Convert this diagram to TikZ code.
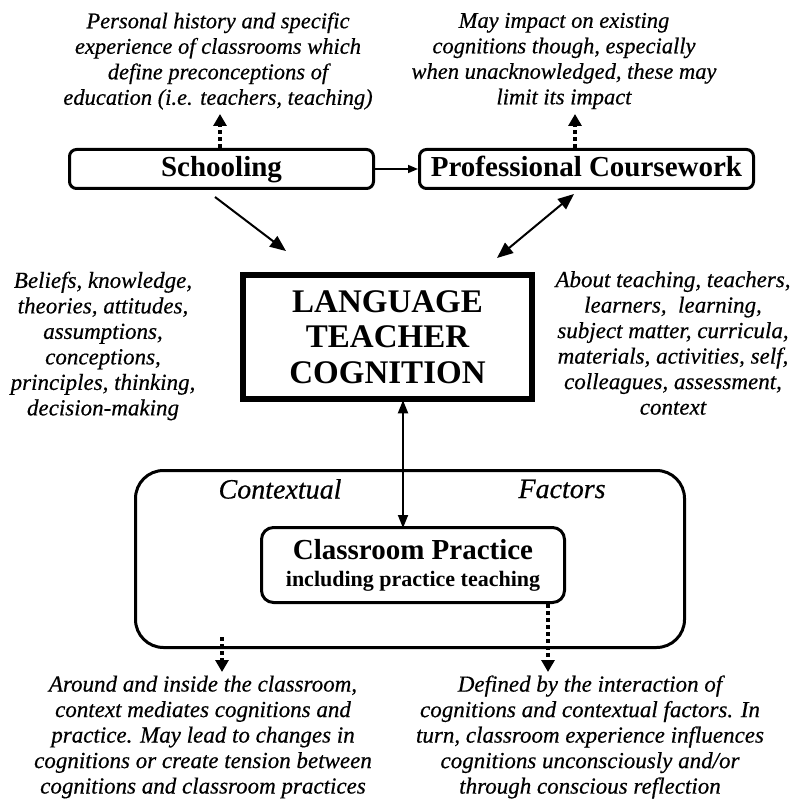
\documentclass[tikz,border=0pt]{standalone}
\usepackage{fontspec}
\setmainfont{Liberation Serif}
\newfontfamily\itf{Liberation Serif}[FakeBold=0.5]
\usetikzlibrary{arrows.meta,calc}
\begin{document}
\begin{tikzpicture}[x=1pt,y=-1pt,
  box/.style={draw,line width=3pt,rounded corners=7pt,inner sep=0pt,text height=18pt,text depth=2pt,
    font=\fontsize{29}{32}\selectfont\bfseries},
  note/.style={align=center,inner sep=0pt,font=\itf\itshape\fontsize{22.5}{25.5}\selectfont},
  notem/.style={align=center,inner sep=0pt,font=\itf\itshape\fontsize{23}{25.5}\selectfont},
  ctx/.style={inner sep=0pt,font=\itf\itshape\fontsize{28}{30}\selectfont},
  conn/.style={line width=2pt,-{Triangle[length=16pt,width=13pt]}},
  dconn/.style={line width=2pt,{Triangle[length=16pt,width=13pt]}-{Triangle[length=16pt,width=13pt]}},
  vconn/.style={line width=1.8pt,{Triangle[length=13pt,width=10pt]}-{Triangle[length=13pt,width=10pt]}},
  hconn/.style={line width=1.5pt,-{Triangle[length=10pt,width=8pt]}},
  dotarrow/.style={line width=3.5pt,dash pattern=on 4pt off 3pt,-{Triangle[length=12pt,width=13pt]}}
]
\useasboundingbox (0,0) rectangle (794,799);

% top boxes
\node[box,minimum width=304pt,minimum height=39pt] (school) at (221.5,169) {Schooling};
\node[box,minimum width=334pt,minimum height=39pt] (pc) at (586.5,169) {Professional Coursework};

% central box
\node[draw,line width=6.5pt,minimum width=289pt,minimum height=124pt,align=center,inner sep=0pt,
  font=\fontsize{33}{35.5}\selectfont\bfseries] (ltc) at (387.5,337) {LANGUAGE\\TEACHER\\COGNITION};

% contextual factors frame
\node[draw,line width=3pt,rounded corners=28pt,minimum width=549pt,minimum height=177pt] (cf) at (410,559) {};
\node[ctx] (ctxa) at (280,489) {Contextual};
\node[ctx] (ctxb) at (562,489) {Factors};

% classroom practice
\node[draw,line width=3pt,rounded corners=12pt,minimum width=303pt,minimum height=75pt,align=center,inner sep=0pt,
  font=\bfseries\fontsize{22}{27}\selectfont] (cp) at (413,565)
  {{\fontsize{29}{27}\selectfont Classroom Practice}\\including practice teaching};

% notes
\node[note] (ntl) at (218,61) {Personal history and specific\\experience of classrooms which\\define preconceptions of\\education (i.e. teachers, teaching)};
\node[note] (ntr) at (564,61) {May impact on existing\\cognitions though, especially\\when unacknowledged, these may\\limit its impact};
\node[notem] (nml) at (103,346) {Beliefs, knowledge,\\theories, attitudes,\\assumptions,\\conceptions,\\principles, thinking,\\decision-making};
\node[notem] (nmr) at (673,343) {About teaching, teachers,\\learners, \ learning,\\subject matter, curricula,\\materials, activities, self,\\colleagues, assessment,\\context};
\node[notem] (nbl) at (203,737) {Around and inside the classroom,\\context mediates cognitions and\\practice. May lead to changes in\\cognitions or create tension between\\cognitions and classroom practices};
\node[notem] (nbr) at (590,737) {Defined by the interaction of\\cognitions and contextual factors. In\\turn, classroom experience influences\\cognitions unconsciously and/or\\through conscious reflection};

% coordinates
\coordinate (t1) at (220,114);
\coordinate (t2) at (575,114);
\coordinate (s1) at (215,197);
\coordinate (s2) at (286,251);
\coordinate (p1) at (574,194);
\coordinate (p2) at (497,258);
\coordinate (va) at (403,0);
\coordinate (b1s) at (222,637);
\coordinate (b1) at (222,672);
\coordinate (b2) at (548,672);

% connectors
\draw[dotarrow] (school.north -| t1) -- (t1);
\draw[dotarrow] (pc.north -| t2) -- (t2);
\draw[hconn] (school.east) -- (pc.west);
\draw[conn] (s1) -- (s2);
\draw[dconn] (p1) -- (p2);
\draw[vconn] ([yshift=2pt]ltc.south -| va) -- ([yshift=-2pt]cp.north -| va);
\draw[dotarrow] (b1s) -- (b1);
\draw[dotarrow] (cp.south -| b2) -- (b2);
\end{tikzpicture}
\end{document}
